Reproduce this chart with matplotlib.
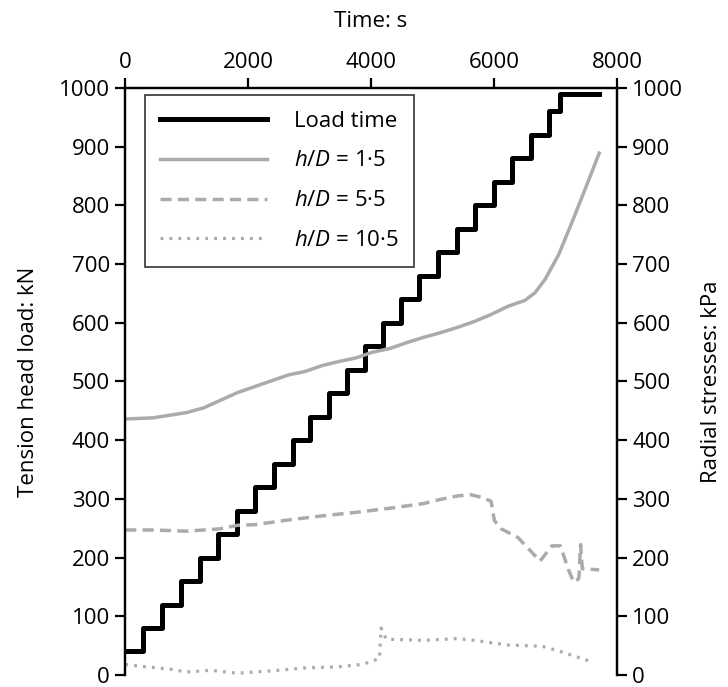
import matplotlib
matplotlib.use('Agg')
import matplotlib.pyplot as plt

plt.rcParams['font.family'] = ['Open Sans', 'DejaVu Sans']
plt.rcParams['mathtext.fontset'] = 'custom'
plt.rcParams['mathtext.rm'] = 'Open Sans'
plt.rcParams['mathtext.it'] = 'Open Sans:italic'

# Load steps (start time of each step, s) and load (kN)
step_start = [0, 286, 605, 908, 1210, 1512, 1815, 2117, 2420, 2722, 3008, 3311, 3602,
              3905, 4191, 4493, 4785, 5087, 5390, 5692, 5995, 6297, 6600, 6902, 7067, 7711]
step_load = [40, 80, 120, 160, 200, 240, 280, 320, 360, 400, 440, 480, 520,
             560, 600, 640, 680, 720, 760, 800, 840, 880, 920, 960, 990, 990]

# h/D = 1.5 radial stress
t_15 = [0, 451, 1000, 1276, 1551, 1826, 2100, 2376, 2651, 2926, 3201, 3476, 3751, 4026,
        4301, 4576, 4851, 5126, 5401, 5676, 5951, 6226, 6501, 6666, 6831, 7051, 7271, 7491, 7711]
s_15 = [436, 438, 447, 455, 468, 481, 491, 501, 511, 517, 527, 534, 540, 550,
        556, 566, 575, 583, 592, 602, 614, 628, 638, 651, 674, 716, 772, 830, 889]

# h/D = 5.5 radial stress
t_55 = [0, 451, 1000, 1551, 1826, 2100, 2651, 3201, 3751, 4301, 4851, 5126, 5401, 5621,
        5786, 5951, 6006, 6116, 6391, 6749, 6941, 7078, 7216, 7298, 7353, 7380, 7408, 7436, 7711]
s_55 = [247, 247, 245, 249, 255, 256, 264, 271, 277, 284, 292, 299, 305, 307,
        303, 296, 263, 249, 234, 194, 220, 220, 178, 158, 162, 165, 222, 181, 179]

# h/D = 10.5 radial stress
t_105 = [0, 231, 726, 1000, 1386, 1826, 2376, 2926, 3476, 3861, 4136, 4163, 4246, 4851,
         5401, 5676, 6226, 6776, 7051, 7601]
s_105 = [18, 15, 10, 5, 8, 3, 7, 12, 14, 18, 28, 80, 61, 59,
         62, 59, 51, 49, 41, 22]

fig = plt.figure(figsize=(7.28, 6.87), dpi=100)
ax = fig.add_axes([0.172, 0.0175, 0.6755, 0.8545])
ax2 = ax.twinx()

grey = '#ababab'
ax.plot(step_start, step_load, drawstyle='steps-post', color='black', lw=3.6, label='Load time')
ax.plot(t_15, s_15, color=grey, lw=2.5, label=r'$h/D$ = 1·5')
ax.plot(t_55, s_55, color=grey, lw=2.5, ls=(0, (3.2, 1.8)), label=r'$h/D$ = 5·5')
ax.plot(t_105, s_105, color=grey, lw=2.3, ls=(0, (0.9, 1.9)), label=r'$h/D$ = 10·5')

fs = 16
for a in (ax, ax2):
    a.set_xlim(0, 8000)
    a.set_ylim(0, 1000)
    a.set_yticks(range(0, 1001, 100))
    a.spines['bottom'].set_visible(False)
    for s in a.spines.values():
        s.set_linewidth(1.6)
    a.tick_params(direction='out', length=7, width=1.6, labelsize=fs, pad=4)

ax.xaxis.tick_top()
ax.xaxis.set_label_position('top')
ax.set_xticks([0, 2000, 4000, 6000, 8000])
ax.set_xlabel('Time: s', fontsize=fs, labelpad=18)
ax.set_ylabel('Tension head load: kN', fontsize=fs, labelpad=14)
ax2.set_ylabel('Radial stresses: kPa', fontsize=fs, labelpad=13)

leg = ax.legend(loc='upper left', bbox_to_anchor=(0.04, 0.988), fontsize=fs,
                handlelength=4.8, frameon=True, fancybox=False, edgecolor='black',
                labelspacing=0.85, borderpad=0.7, handletextpad=1.2, borderaxespad=0)
leg.get_frame().set_linewidth(1.2)

fig.savefig('out.png', dpi=100)
